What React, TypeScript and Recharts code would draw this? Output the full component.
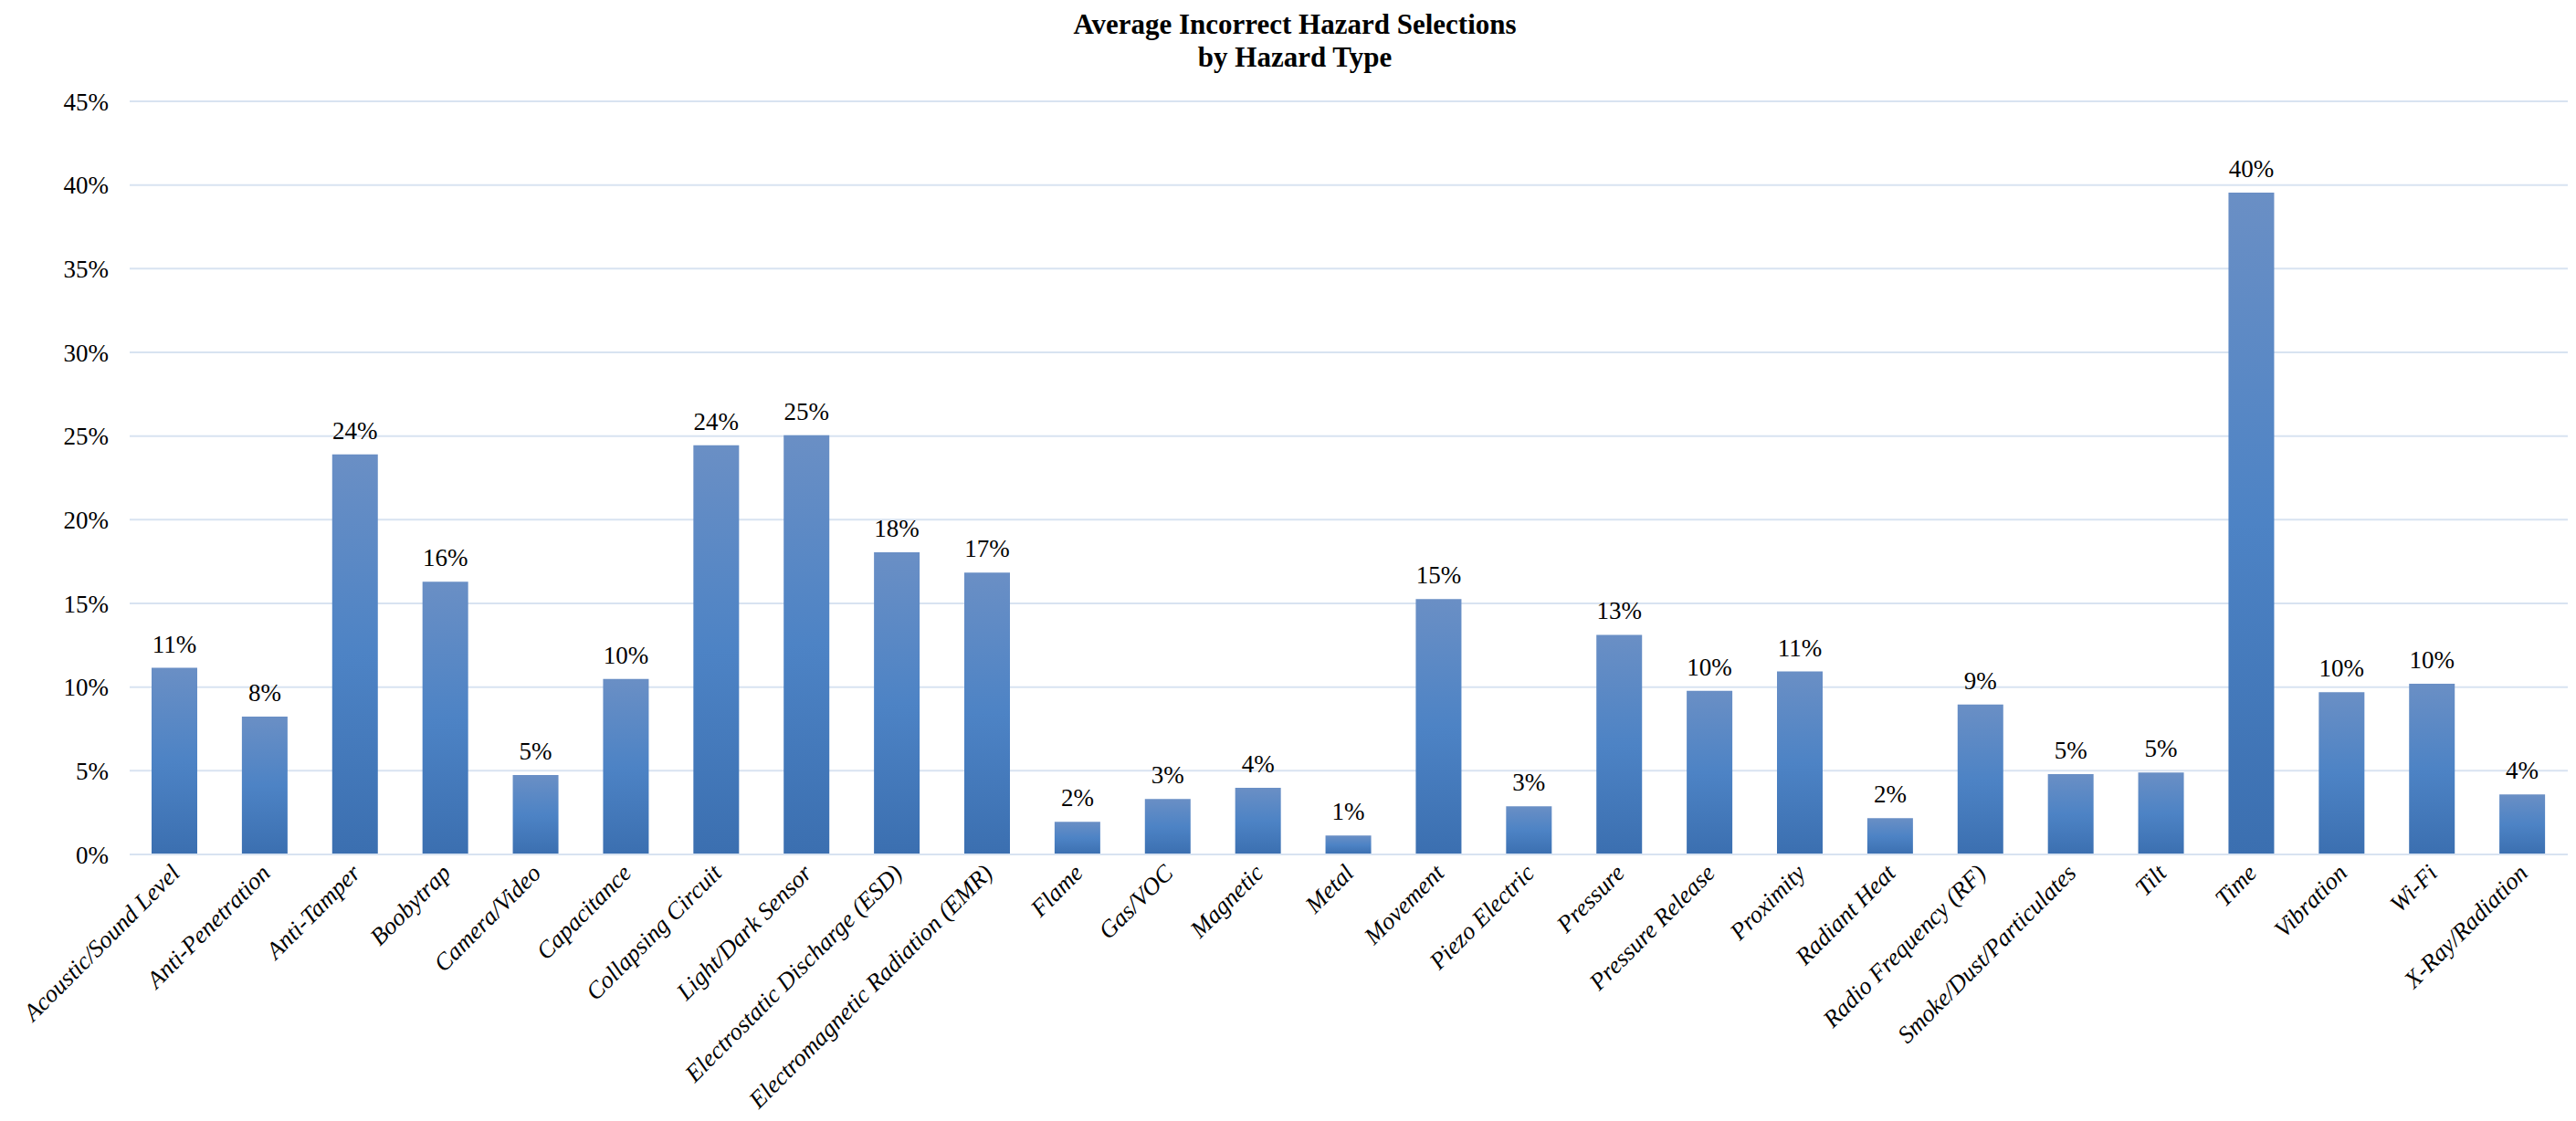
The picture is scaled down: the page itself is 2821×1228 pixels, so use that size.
import React from 'react';
import { BarChart, Bar, XAxis, YAxis, CartesianGrid, LabelList } from 'recharts';

// hazard categories, in the order they appear along the x axis
const hazardTypes = [
  'Acoustic/Sound Level',
  'Anti-Penetration',
  'Anti-Tamper',
  'Boobytrap',
  'Camera/Video',
  'Capacitance',
  'Collapsing Circuit',
  'Light/Dark Sensor',
  'Electrostatic Discharge (ESD)',
  'Electromagnetic Radiation (EMR)',
  'Flame',
  'Gas/VOC',
  'Magnetic',
  'Metal',
  'Movement',
  'Piezo Electric',
  'Pressure',
  'Pressure Release',
  'Proximity',
  'Radiant Heat',
  'Radio Frequency (RF)',
  'Smoke/Dust/Particulates',
  'Tilt',
  'Time',
  'Vibration',
  'Wi-Fi',
  'X-Ray/Radiation',
];

// average incorrect selections, percent
const incorrectPct = [
  11.15, 8.24, 23.9, 16.3, 4.74, 10.49, 24.45, 25.05, 18.05, 16.84, 1.95, 3.32, 3.98, 1.13,
  15.26, 2.88, 13.12, 9.78, 10.93, 2.17, 8.96, 4.8, 4.89, 39.55, 9.69, 10.2, 3.58,
];

const yTicks = [0, 5, 10, 15, 20, 25, 30, 35, 40, 45];

const data = hazardTypes.map((name, i) => ({ name, value: incorrectPct[i] }));

const serif = '"Liberation Serif", "Times New Roman", serif';
const gridColor = '#d8e3f1';

const CategoryTick = ({ x, y, payload }: any) => (
  <g transform={`translate(${x + 7},${y + 22})`}>
    <text
      textAnchor="end"
      transform="rotate(-45)"
      fontFamily={serif}
      fontStyle="italic"
      fontSize={26.5}
      fill="#000"
    >
      {payload.value}
    </text>
  </g>
);

export default function App() {
  return (
    <div style={{ position: 'absolute', left: 0, top: 0, width: 2821, height: 1228, background: '#fff' }}>
      <div
        style={{
          position: 'absolute',
          top: 9,
          left: 1418,
          transform: 'translateX(-50%)',
          fontFamily: serif,
          fontWeight: 'bold',
          fontSize: 31,
          lineHeight: '36px',
          textAlign: 'center',
          whiteSpace: 'nowrap',
          color: '#000',
        }}
      >
        Average Incorrect Hazard Selections
        <br />
        by Hazard Type
      </div>
      <BarChart
        width={2821}
        height={1228}
        data={data}
        margin={{ top: 111, right: 9, left: 0, bottom: 0 }}
      >
        <defs>
          <linearGradient id="barFill" x1="0" y1="0" x2="0" y2="1">
            <stop offset="0%" stopColor="#6a8fc5" />
            <stop offset="50%" stopColor="#4d83c5" />
            <stop offset="100%" stopColor="#3b6fb0" />
          </linearGradient>
        </defs>
        <CartesianGrid vertical={false} stroke={gridColor} strokeWidth={2} />
        <XAxis
          dataKey="name"
          interval={0}
          height={292}
          tick={<CategoryTick />}
          tickLine={false}
          tickSize={0}
          tickMargin={0}
          axisLine={{ stroke: gridColor, strokeWidth: 2 }}
        />
        <YAxis
          width={142}
          domain={[0, 45]}
          ticks={yTicks}
          tickFormatter={(v: number) => `${v}%`}
          axisLine={false}
          tickLine={false}
          tickSize={0}
          tickMargin={23}
          tick={{ fontFamily: serif, fontSize: 27, fill: '#000' }}
        />
        <Bar dataKey="value" fill="url(#barFill)" barSize={50} isAnimationActive={false}>
          <LabelList
            dataKey="value"
            position="top"
            offset={17}
            formatter={(v: any) => `${Math.round(Number(v))}%`}
            style={{ fontFamily: serif, fontSize: 27, fill: '#000' }}
          />
        </Bar>
      </BarChart>
    </div>
  );
}
